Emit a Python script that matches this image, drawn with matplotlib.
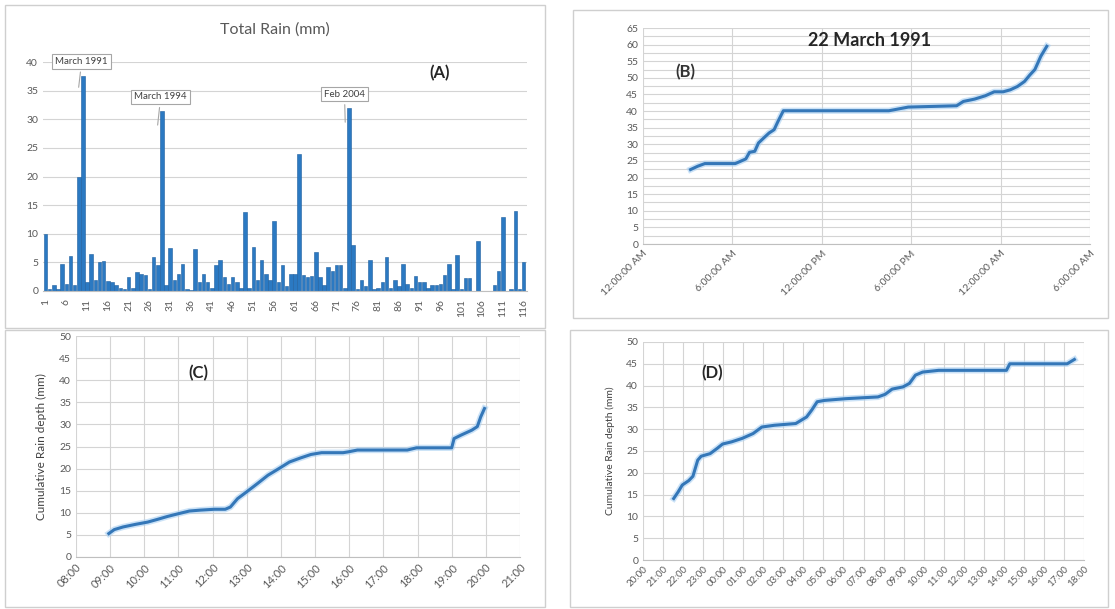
import numpy as np
import matplotlib
matplotlib.use("Agg")
import matplotlib.pyplot as plt
from matplotlib.patches import Rectangle

plt.rcParams['font.family'] = ['Lato', 'DejaVu Sans']

# (A) total rain per event, events 1..116
rain_mm = [10, 0.3, 1.0, 0.4, 4.8, 1.2, 6.2, 1.0, 20, 37.5,
           1.5, 6.5, 2.0, 5.0, 5.2, 1.8, 1.6, 1.0, 0.5, 0.3,
           2.4, 0.5, 3.3, 3.0, 2.8, 0.3, 6.0, 4.5, 31.5, 1.0,
           7.5, 2.0, 3.0, 4.8, 0.3, 0.2, 7.3, 1.5, 3.0, 1.5,
           0.5, 4.5, 5.5, 2.5, 1.2, 2.5, 1.5, 0.5, 13.8, 0.5,
           7.6, 2.0, 5.5, 3.0, 2.0, 12.2, 1.5, 4.5, 0.8, 3.0,
           3.0, 24.0, 2.8, 2.5, 2.7, 6.8, 2.5, 1.0, 4.2, 3.5,
           4.5, 4.5, 0.5, 32.0, 8.0, 0.3, 2.0, 0.8, 5.5, 0.3,
           0.5, 1.5, 6.0, 0.5, 2.0, 0.8, 4.8, 1.2, 0.5, 2.7,
           1.5, 1.5, 0.5, 1.0, 1.0, 1.2, 2.8, 4.8, 0.3, 6.3,
           0.3, 2.3, 2.3, 0, 8.7, 0, 0, 0, 1.0, 3.5,
           13.0, 0, 0.3, 14.0, 0.3, 5.0]
events = np.arange(1, len(rain_mm) + 1)
event_ticks = list(range(1, 117, 5))
callouts = [("March 1991", 8.9, 35.1, 9.7, 40.1),
            ("March 1994", 27.9, 28.5, 28.7, 33.9),
            ("Feb 2004", 73.1, 29.0, 72.9, 34.4)]

# (B) 22 March 1991, hours from 12:00 AM
b_hours = [3.19, 3.67, 4.15, 6.19, 6.55, 6.9, 7.15, 7.5, 7.75, 8.1, 8.46, 8.8, 9.06, 9.42,
           16.5, 16.86, 17.8, 21.05, 21.5, 22.25, 22.97, 23.57, 24.17, 24.65, 25.13,
           25.6, 25.97, 26.3, 26.7, 27.1]
b_depth = [22.4, 23.4, 24.2, 24.2, 24.9, 25.6, 27.6, 27.9, 30.4, 31.9, 33.4, 34.4, 36.9, 40.1,
           40.1, 40.4, 41.2, 41.6, 42.9, 43.6, 44.6, 45.8, 45.8, 46.4, 47.4,
           48.9, 50.9, 52.5, 56.5, 59.5]
b_ticks = [0, 6, 12, 18, 24, 30]
b_labels = ["12:00:00 AM", "6:00:00 AM", "12:00:00 PM", "6:00:00 PM", "12:00:00 AM", "6:00:00 AM"]

# (C)
c_hours = [8.96, 9.12, 9.38, 9.75, 10.1, 10.38, 10.69, 11.0, 11.32, 11.63, 12.05, 12.37,
           12.52, 12.73, 12.99, 13.31, 13.62, 13.94, 14.25, 14.57, 14.88, 15.19, 15.82,
           15.98, 16.24, 17.7, 17.97, 19.0, 19.07, 19.28, 19.59, 19.75, 19.85, 19.96]
c_depth = [5.3, 6.2, 6.8, 7.4, 7.9, 8.5, 9.2, 9.8, 10.4, 10.6, 10.8, 10.8,
           11.3, 13.2, 14.7, 16.6, 18.5, 20.0, 21.5, 22.4, 23.2, 23.6, 23.6,
           23.8, 24.2, 24.2, 24.7, 24.7, 26.8, 27.6, 28.7, 29.5, 31.7, 33.6]
c_labels = ["08:00", "09:00", "10:00", "11:00", "12:00", "13:00", "14:00",
            "15:00", "16:00", "17:00", "18:00", "19:00", "20:00", "21:00"]

# (D) hours counted from 00:00 of the first day
d_hours = [21.53, 21.75, 21.96, 22.28, 22.49, 22.73, 22.9, 23.35, 23.7, 23.97, 24.42,
           24.95, 25.49, 25.93, 26.55, 27.62, 28.16, 28.42, 28.69, 29.05, 30.12, 31.72,
           32.08, 32.43, 32.97, 33.29, 33.59, 33.95, 34.75, 38.13, 38.3, 41.16, 41.52]
d_depth = [14.1, 15.6, 17.2, 18.2, 19.2, 22.9, 23.8, 24.4, 25.6, 26.6, 27.1,
           27.9, 29.0, 30.5, 30.9, 31.3, 32.8, 34.4, 36.3, 36.6, 37.0, 37.4,
           38.0, 39.2, 39.7, 40.5, 42.4, 43.1, 43.5, 43.5, 45.0, 45.0, 46.0]
d_labels = ["20:00", "21:00", "22:00", "23:00", "00:00", "01:00", "02:00", "03:00",
            "04:00", "05:00", "06:00", "07:00", "08:00", "09:00", "10:00", "11:00",
            "12:00", "13:00", "14:00", "15:00", "16:00", "17:00", "18:00"]

W, H = 1115, 609
BLUE = '#2b79c2'
LINE = '#3477b8'
GREY = '#595959'
GRID = '#d4d4d4'

fig = plt.figure(figsize=(W / 100, H / 100), dpi=100)


def px_axes(left, top, right, bottom):
    return fig.add_axes([left / W, 1 - bottom / H, (right - left) / W, (bottom - top) / H])


def box(left, top, right, bottom):
    fig.add_artist(Rectangle((left / W, 1 - bottom / H), (right - left) / W, (bottom - top) / H,
                             transform=fig.transFigure, fill=False, edgecolor='#cfcfcf', lw=1))


def excel_style(ax):
    for s in ['top', 'right', 'left']:
        ax.spines[s].set_visible(False)
    ax.spines['bottom'].set_color('#bfbfbf')
    ax.tick_params(colors=GREY, labelsize=7.5, length=0)
    ax.set_axisbelow(True)


for b in [(5, 5, 545, 328), (573, 10, 1108, 318), (5, 330, 545, 607), (570, 330, 1108, 607)]:
    box(*b)

# ---- (A)
ax = px_axes(43, 62, 527, 291)
excel_style(ax)
ax.bar(events, rain_mm, width=0.85, color=BLUE, edgecolor='#1f5f9e', linewidth=0.4)
ax.set_xlim(0.4, 116.8)
ax.set_ylim(0, 40)
ax.set_yticks(range(0, 41, 5))
ax.set_xticks(event_ticks)
ax.set_xticklabels([str(t) for t in event_ticks], rotation=90, fontsize=7.5)
ax.tick_params(axis='x', pad=6)
ax.grid(axis='y', color=GRID, lw=0.8)
for text, x0, y0, x1, y1 in callouts:
    ax.annotate(text, xy=(x0, y0), xytext=(x1, y1), fontsize=7, color='#404040',
                ha='center', va='center', annotation_clip=False,
                bbox=dict(boxstyle='square,pad=0.3', fc='white', ec='#a6a6a6', lw=0.8),
                arrowprops=dict(arrowstyle='-', color='#a6a6a6', lw=0.8))
fig.text(275 / W, 1 - 30 / H, "Total Rain (mm)", ha='center', va='center', fontsize=11.5, color=GREY)
fig.text(440 / W, 1 - 73 / H, "(A)", ha='center', va='center', fontsize=12, weight='bold', color='#262626')

# ---- (B)
ax = px_axes(643, 28, 1090, 244)
excel_style(ax)
ax.plot(b_hours, b_depth, color='#a9d0f2', lw=4.5, alpha=0.6)
ax.plot(b_hours, b_depth, color=LINE, lw=2.2)
ax.set_xlim(0, 30)
ax.set_ylim(0, 65)
ax.set_yticks(range(0, 66, 5))
ax.set_yticks(np.arange(2.5, 65, 5), minor=True)
ax.tick_params(which='minor', length=0)
ax.set_xticks(b_ticks)
ax.set_xticklabels(b_labels, rotation=45, ha='right', rotation_mode='anchor', fontsize=7.5)
ax.grid(axis='y', which='both', color=GRID, lw=0.8)
ax.grid(axis='x', color=GRID, lw=0.8)
fig.text(870 / W, 1 - 40 / H, "22 March 1991", ha='center', va='center', fontsize=13, weight='bold', color='#262626')
fig.text(685 / W, 1 - 72 / H, "(B)", ha='center', va='center', fontsize=12, weight='bold', color='#333333')

# ---- (C)
ax = px_axes(76, 336, 520, 557)
excel_style(ax)
ax.plot(c_hours, c_depth, color='#a9d0f2', lw=4.5, alpha=0.6)
ax.plot(c_hours, c_depth, color=LINE, lw=2.2)
ax.set_xlim(8, 21)
ax.set_ylim(0, 50)
ax.set_yticks(range(0, 51, 5))
ax.set_xticks(range(8, 22))
ax.set_xticklabels(c_labels, rotation=45, ha='right', rotation_mode='anchor', fontsize=8)
ax.grid(color=GRID, lw=0.8)
ax.set_ylabel("Cumulative Rain depth (mm)", fontsize=8.5, color='#404040', labelpad=9)
fig.text(198 / W, 1 - 373 / H, "(C)", ha='center', va='center', fontsize=12, weight='bold', color='#262626')

# ---- (D)
ax = px_axes(643, 342, 1084, 560)
excel_style(ax)
ax.plot(d_hours, d_depth, color='#a9d0f2', lw=4.5, alpha=0.6)
ax.plot(d_hours, d_depth, color=LINE, lw=2.2)
ax.set_xlim(20, 42)
ax.set_ylim(0, 50)
ax.set_yticks(range(0, 51, 5))
ax.set_xticks(range(20, 43))
ax.set_xticklabels(d_labels, rotation=45, ha='right', rotation_mode='anchor', fontsize=7)
ax.grid(color=GRID, lw=0.8)
ax.set_ylabel("Cumulative Rain depth (mm)", fontsize=7.5, color='#404040', labelpad=8)
fig.text(712 / W, 1 - 373 / H, "(D)", ha='center', va='center', fontsize=12, weight='bold', color='#262626')

fig.savefig("out.png", dpi=100)
